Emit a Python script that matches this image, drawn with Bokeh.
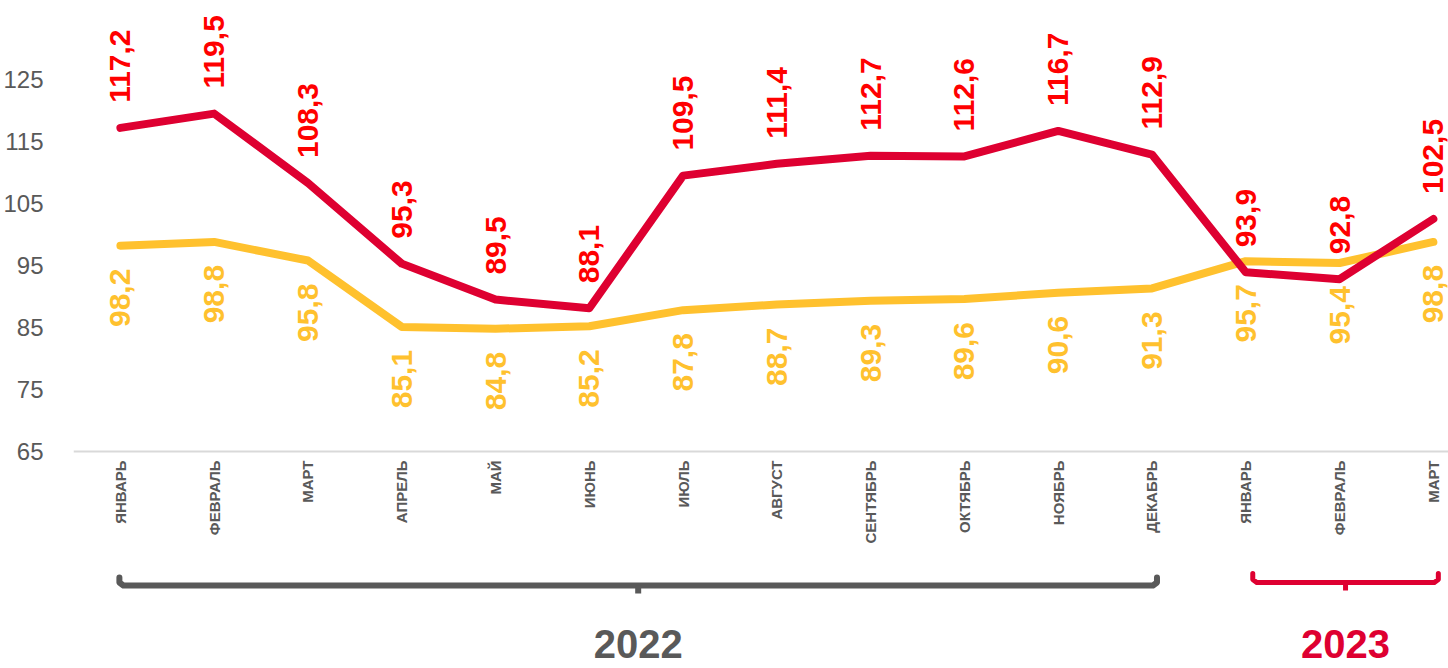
import math
from bokeh.plotting import figure
from bokeh.models import Range1d, FixedTicker, ColumnDataSource, Span
from bokeh.core.properties import value
from bokeh.embed import file_html
from bokeh.resources import INLINE

months = ["ЯНВАРЬ", "ФЕВРАЛЬ", "МАРТ", "АПРЕЛЬ", "МАЙ", "ИЮНЬ", "ИЮЛЬ", "АВГУСТ",
          "СЕНТЯБРЬ", "ОКТЯБРЬ", "НОЯБРЬ", "ДЕКАБРЬ", "ЯНВАРЬ", "ФЕВРАЛЬ", "МАРТ"]
red_values = [117.2, 119.5, 108.3, 95.3, 89.5, 88.1, 109.5, 111.4, 112.7, 112.6, 116.7, 112.9, 93.9, 92.8, 102.5]
yellow_values = [98.2, 98.8, 95.8, 85.1, 84.8, 85.2, 87.8, 88.7, 89.3, 89.6, 90.6, 91.3, 95.7, 95.4, 98.8]
years = ["2022", "2023"]
year_counts = [12, 3]
y_ticks = [65, 75, 85, 95, 105, 115, 125]

RED = "#DE0031"
RED_TXT = "#FF0000"
YEL = "#FFC12E"
GRAY = "#595959"
FONT = "Liberation Sans"

W, H = 1448, 668
LEFT = 72
PX_PER_CAT = 93.85
PX_PER_UNIT = 6.2
AXIS_PX = 451  # pixel row of the 65 baseline

xs = [i + 0.5 for i in range(len(months))]
fmt = lambda v: f"{v:.1f}".replace(".", ",")

src = ColumnDataSource(dict(
    x=xs, red=red_values, yel=yellow_values,
    red_lbl=[fmt(v) for v in red_values],
    yel_lbl=[fmt(v) for v in yellow_values],
    month=months, base=[y_ticks[0]] * len(months),
))

y_end = y_ticks[0] + AXIS_PX / PX_PER_UNIT
y_start = y_ticks[0] - (H - AXIS_PX) / PX_PER_UNIT
x_range = Range1d(0, (W - LEFT) / PX_PER_CAT)
y_range = Range1d(y_start, y_end)


def py(px):
    """screen row -> data y, for decorations below the axis"""
    return y_end - px / PX_PER_UNIT


p = figure(width=W, height=H, x_range=x_range, y_range=y_range,
           output_backend="svg", toolbar_location=None,
           min_border_left=LEFT, min_border_top=0, min_border_right=0,
           min_border_bottom=0)
p.outline_line_color = None
p.background_fill_color = "white"
p.border_fill_color = "white"
p.grid.visible = False
p.xaxis.visible = False

p.yaxis.ticker = FixedTicker(ticks=y_ticks)
p.yaxis.axis_line_color = None
p.yaxis.major_tick_line_color = None
p.yaxis.minor_tick_line_color = None
p.yaxis.major_label_text_font = FONT
p.yaxis.major_label_text_font_size = "24px"
p.yaxis.major_label_text_color = GRAY
p.yaxis.major_label_standoff = 24

p.add_layout(Span(location=y_ticks[0], dimension="width", line_color="#D9D9D9", line_width=2))

# category labels
p.text("x", "base", text="month", source=src, angle=math.pi / 2, text_align="right",
       text_baseline="middle", y_offset=9, text_color=GRAY, text_font=value(FONT),
       text_font_size="15px", text_font_style="bold")

p.line("x", "yel", source=src, line_color=YEL, line_width=8, line_cap="round", line_join="round")
p.line("x", "red", source=src, line_color=RED, line_width=8, line_cap="round", line_join="round")

p.text("x", "yel", text="yel_lbl", source=src, angle=math.pi / 2, text_align="right",
       text_baseline="middle", y_offset=23, text_color=YEL, text_font=value(FONT),
       text_font_size="30px", text_font_style="bold")
p.text("x", "red", text="red_lbl", source=src, angle=math.pi / 2, text_align="left",
       text_baseline="middle", y_offset=-25, text_color=RED_TXT, text_font=value(FONT),
       text_font_size="30px", text_font_style="bold")

# year brackets
start = 0
styles = [(GRAY, 6, 585, 577, 593, -1, 5), (RED, 5, 582, 573, 590, 7, 5)]
for yr, cnt, (col, lw, yl, ytop, ynotch, dx0, dx1) in zip(years, year_counts, styles):
    x0 = start + 0.5 + dx0 / PX_PER_CAT
    x1 = start + cnt - 0.5 + dx1 / PX_PER_CAT
    xc = (x0 + x1) / 2
    d = 4 / PX_PER_CAT
    p.line([x0, x0, x0 + d, x1 - d, x1, x1],
           [py(ytop), py(yl - 3), py(yl), py(yl), py(yl - 3), py(ytop)],
           line_color=col, line_width=lw, line_join="round", line_cap="round")
    p.line([xc, xc], [py(yl), py(ynotch)], line_color=col, line_width=lw)
    p.text([xc], [py(629)], text=[yr], text_align="center", text_baseline="top",
           text_color=col, text_font=value(FONT), text_font_style="bold", text_font_size="40px")
    start += cnt

open("out.html", "w").write(file_html(p, INLINE))
